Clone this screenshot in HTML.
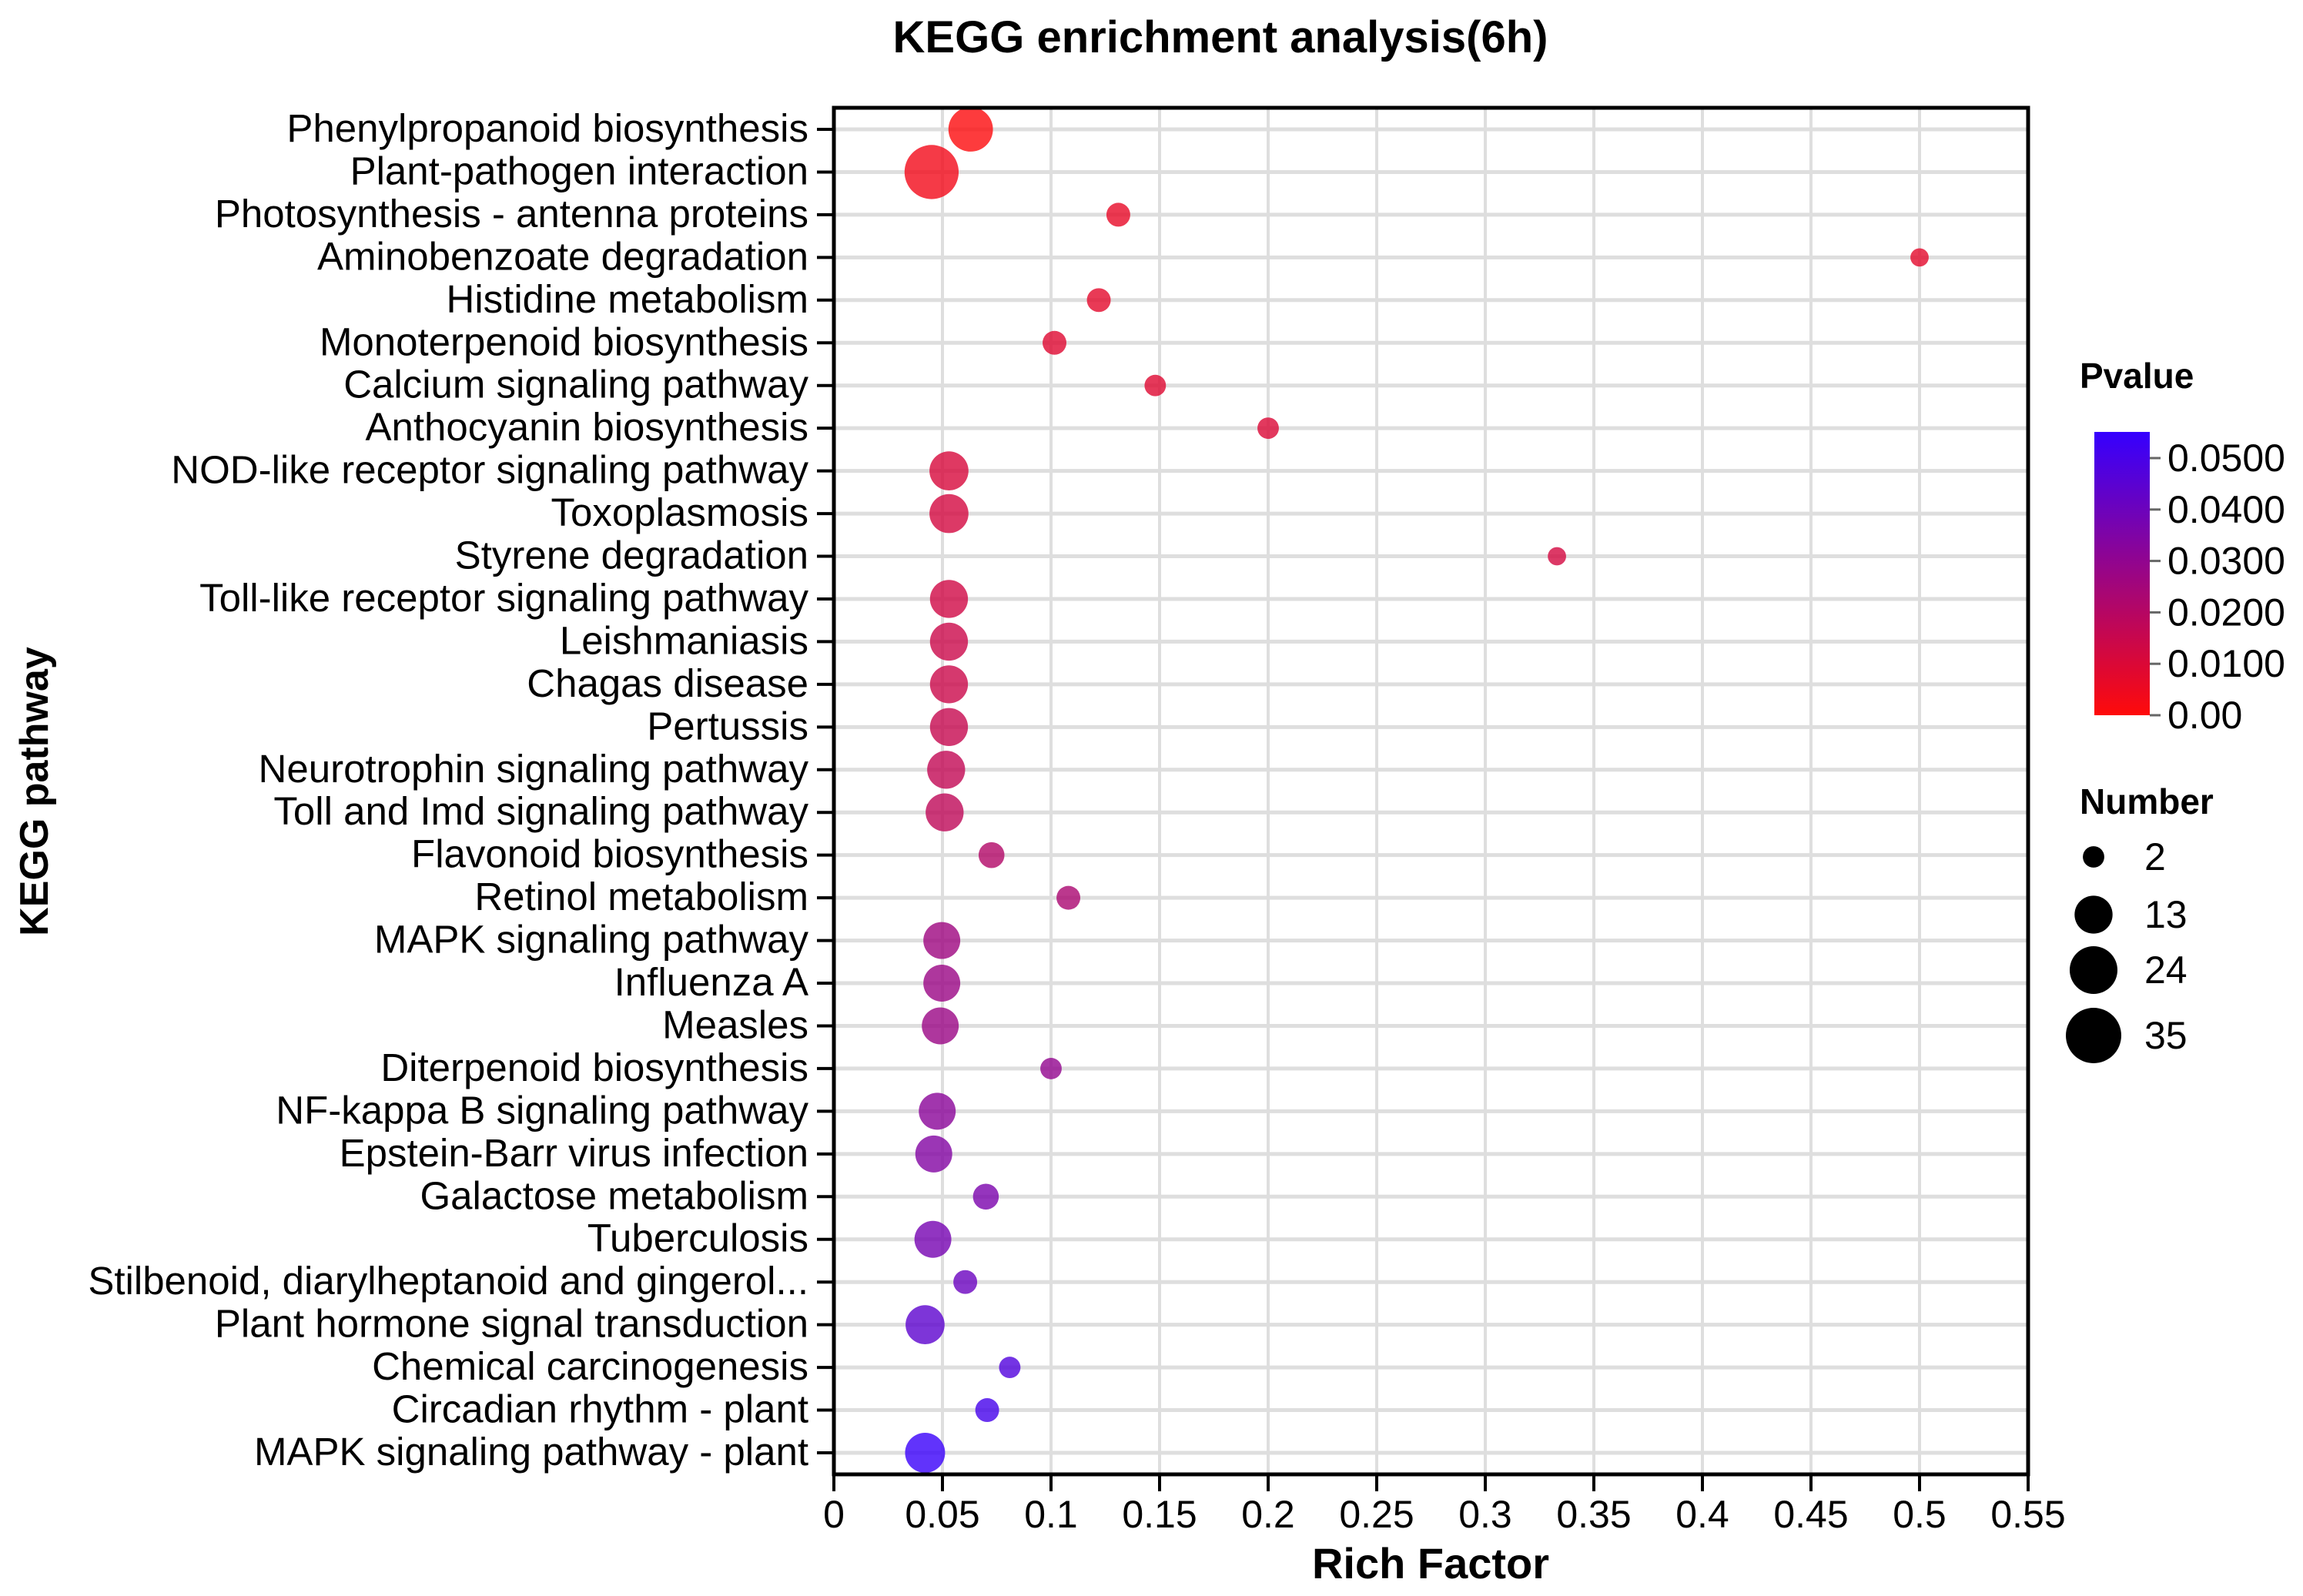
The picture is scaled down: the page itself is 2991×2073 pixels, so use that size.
<!DOCTYPE html>
<html><head><meta charset="utf-8"><style>
html,body{margin:0;padding:0;background:#fff;}
svg{display:block;font-family:"Liberation Sans",Arial,sans-serif;}
</style></head><body>
<svg id="chart" width="2991" height="2073" viewBox="0 0 2991 2073" xmlns="http://www.w3.org/2000/svg">
<defs>
<linearGradient id="pgrad" x1="0" y1="1" x2="0" y2="0">
<stop offset="0" stop-color="#ff0a0a"/><stop offset="1" stop-color="#3500ff"/>
</linearGradient>
</defs>
<text x="1585" y="68" text-anchor="middle" font-size="58" font-weight="bold">KEGG enrichment analysis(6h)</text>
<g id="grid"></g>
<g id="bubbles"></g>
<g id="axes"></g>
<text transform="translate(62,1028) rotate(-90)" text-anchor="middle" font-size="52" font-weight="bold">KEGG pathway</text>
<text x="1858" y="2050" text-anchor="middle" font-size="56" font-weight="bold">Rich Factor</text>
<g id="legend">
<text x="2701" y="504" font-size="46" font-weight="bold">Pvalue</text>
<rect x="2720" y="561" width="72" height="368" fill="url(#pgrad)"/>
<g id="cbticks"></g>
<text x="2701" y="1057" font-size="46" font-weight="bold">Number</text>
<g id="sizelegend"></g>
</g>
</svg>
<script>
const pathways = ["Phenylpropanoid biosynthesis","Plant-pathogen interaction","Photosynthesis - antenna proteins","Aminobenzoate degradation","Histidine metabolism","Monoterpenoid biosynthesis","Calcium signaling pathway","Anthocyanin biosynthesis","NOD-like receptor signaling pathway","Toxoplasmosis","Styrene degradation","Toll-like receptor signaling pathway","Leishmaniasis","Chagas disease","Pertussis","Neurotrophin signaling pathway","Toll and Imd signaling pathway","Flavonoid biosynthesis","Retinol metabolism","MAPK signaling pathway","Influenza A","Measles","Diterpenoid biosynthesis","NF-kappa B signaling pathway","Epstein-Barr virus infection","Galactose metabolism","Tuberculosis","Stilbenoid, diarylheptanoid and gingerol...","Plant hormone signal transduction","Chemical carcinogenesis","Circadian rhythm - plant","MAPK signaling pathway - plant"];
const richFactor = [0.063,0.045,0.131,0.5,0.122,0.1016,0.148,0.2,0.053,0.053,0.333,0.053,0.053,0.053,0.053,0.0517,0.051,0.0726,0.108,0.0497,0.0497,0.049,0.1,0.0476,0.046,0.07,0.0456,0.0605,0.042,0.081,0.0706,0.042];
const geneNumber = [20,33,3,1,3,3,2,2,14,14,1,13,13,13,13,13,13,4,3,12,12,12,2,12,12,4,12,3,14,2,3,15];
const pValues = [0.0005,0.003,0.006,0.007,0.007,0.008,0.008,0.009,0.010,0.011,0.011,0.012,0.013,0.013,0.014,0.015,0.016,0.019,0.021,0.024,0.025,0.025,0.027,0.029,0.031,0.033,0.034,0.037,0.040,0.043,0.046,0.049];
const xTicks = [0,0.05,0.1,0.15,0.2,0.25,0.3,0.35,0.4,0.45,0.5,0.55];
const xTickLabels = ["0","0.05","0.1","0.15","0.2","0.25","0.3","0.35","0.4","0.45","0.5","0.55"];
const pTicks = [0.05,0.04,0.03,0.02,0.01,0];
const pTickLabels = ["0.0500","0.0400","0.0300","0.0200","0.0100","0.00"];
const sizeLegendValues = [2,13,24,35];

const NS="http://www.w3.org/2000/svg";
const L=1083,R=2634,T=140,B=1915;
const X0=0,X1=0.55;
const xs=v=>L+(v-X0)/(X1-X0)*(R-L);
const rowTop=168,rowBot=1887;
const ys=i=>rowTop+i*(rowBot-rowTop)/(pathways.length-1);
const rs=n=>7+4.9*Math.sqrt(n);
const pys=p=>929-p/0.05*(929-595);
function pcol(p){const t=Math.max(0,Math.min(1,p/0.05));
 const r=Math.round(255+(53-255)*t),g=Math.round(10*(1-t)),b=Math.round(10+(255-10)*t);return `rgb(${r},${g},${b})`;}
function mk(tag,attrs,parent){const e=document.createElementNS(NS,tag);for(const k in attrs)e.setAttribute(k,attrs[k]);parent.appendChild(e);return e;}

const grid=document.getElementById('grid'),axes=document.getElementById('axes'),bub=document.getElementById('bubbles');
xTicks.forEach((t,i)=>{
 const gl=mk('line',{x1:xs(t),x2:xs(t),y1:T,y2:B,stroke:'#dedede','stroke-width':4},grid);
 
 
 const tk=mk('line',{x1:xs(t),x2:xs(t),y1:B,y2:B+22,stroke:'#000','stroke-width':4},axes);
 
 
 const tl=mk('text',{x:xs(t),y:1984,'text-anchor':'middle','font-size':50},axes);
 tl.textContent=xTickLabels[i];
 
 
});
pathways.forEach((p,i)=>{
 const gl=mk('line',{x1:L,x2:R,y1:ys(i),y2:ys(i),stroke:'#dedede','stroke-width':5},grid);
 
 
 const tk=mk('line',{x1:L-22,x2:L,y1:ys(i),y2:ys(i),stroke:'#000','stroke-width':4},axes);
 
 
 const tl=mk('text',{x:1050,y:ys(i)+16,'text-anchor':'end','font-size':51},axes);
 tl.textContent=p;
 
 
 const c=mk('circle',{cx:xs(richFactor[i]),cy:ys(i),r:rs(geneNumber[i]),fill:pcol(pValues[i]),'fill-opacity':0.8},bub);
 
 
});
const frame=mk('rect',{x:L,y:T,width:R-L,height:B-T,fill:'none',stroke:'#000','stroke-width':5},axes);



const cb=document.getElementById('cbticks');
pTicks.forEach((p,i)=>{
 const tk=mk('line',{x1:2792,x2:2806,y1:pys(p),y2:pys(p),stroke:'#666','stroke-width':3},cb);
 
 
 const tl=mk('text',{x:2815,y:pys(p)+17,'font-size':50},cb);
 tl.textContent=pTickLabels[i];
 
 
});
const sl=document.getElementById('sizelegend');
const slY=[1113,1188,1260,1345];
sizeLegendValues.forEach((n,i)=>{
 const c=mk('circle',{cx:2719,cy:slY[i],r:rs(n),fill:'#000'},sl);
 
 
 const t=mk('text',{x:2785,y:slY[i]+17,'font-size':50},sl);
 t.textContent=String(n);
 
 
});
</script>
</body></html>
